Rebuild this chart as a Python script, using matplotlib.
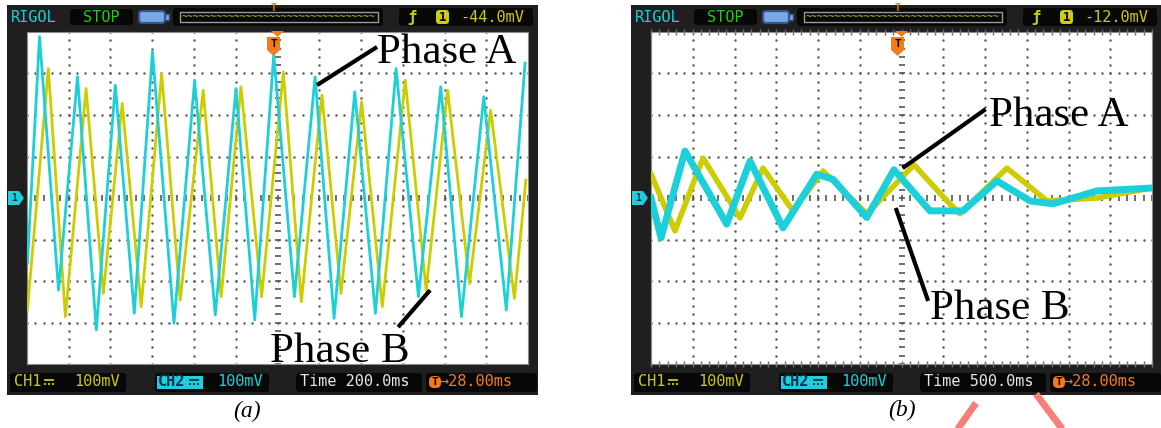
import matplotlib
matplotlib.use('Agg')
import matplotlib.pyplot as plt
from matplotlib.patches import Rectangle, FancyBboxPatch, Polygon
import numpy as np

# ---- values (time in ms from trigger, mV) ----
captions = ['(a)', '(b)']
time_per_div = [200, 500]          # ms/div
volt_per_div = 100                 # mV/div (CH1 and CH2)
trig_levels = ['-44.0mV', '-12.0mV']
time_labels = ['Time 200.0ms', 'Time 500.0ms']
trig_delay = '28.00ms'
ch_scale = '100mV'

# (a)  Phase A = CH2 (cyan), Phase B = CH1 (yellow)
a_phaseA_t = [-1198, -1140, -1049, -958, -868, -777, -686, -599, -496, -397, -298, -199, -109,
              -18, 81, 180, 271, 370, 469, 568, 675, 782, 881, 988, 1096, 1186]
a_phaseA_v = [-157, 389, -222, 292, -318, 272, -278, 353, -302, 284, -282, 264, -294,
              345, -238, 292, -290, 256, -278, 312, -238, 268, -286, 244, -270, 325]
a_phaseB_t = [-1198, -1098, -1016, -917, -834, -744, -653, -555, -466, -356, -270, -175, -76,
              28, 114, 213, 304, 403, 502, 612, 712, 815, 920, 1021, 1135, 1190]
a_phaseB_v = [-270, 312, -286, 264, -230, 228, -262, 300, -246, 260, -238, 268, -238,
              304, -250, 248, -230, 232, -262, 284, -222, 260, -206, 212, -242, 43]

# (b)
b_phaseA_t = [-3000, -2880, -2593, -2093, -1814, -1419, -1016, -820, -417, -90, 341, 737,
              1144, 1540, 1815, 2341, 2990]
b_phaseA_v = [0, -96, 113, -63, 89, -72, 57, 45, -47, 68, -31, -31, 41, -7, -14, 17, 24]
b_phaseB_t = [-3000, -2713, -2377, -1934, -1659, -1300, -940, -414, 150, 545, 700, 1263,
              1742, 2341, 2990]
b_phaseB_v = [58, -79, 96, -48, 72, -31, 65, -38, 80, -7, -38, 72, -7, 0, 24]

CYAN = '#1ccfd8'
YELLOW = '#cccc00'
ORANGE = '#f27d1a'
GREEN = '#18d018'
FRAME = '#1f1f1f'
BOX = '#070707'
MONO = ['DejaVu Sans Mono', 'DejaVu Sans']
SERIF = 'Liberation Serif'
W, H = 1161, 428

fig = plt.figure(figsize=(W / 100, H / 100), dpi=100)
fig.patch.set_facecolor('white')

bg = fig.add_axes([0, 0, 1, 1])
bg.set_xlim(0, W)
bg.set_ylim(H, 0)
bg.axis('off')


def box(ax, x, y, w, h, fc=BOX, ec='none', lw=0, r=3):
    ax.add_patch(FancyBboxPatch((x, y), w, h, boxstyle=f'round,pad=0,rounding_size={r}',
                                fc=fc, ec=ec, lw=lw))


def mtext(ax, x, y, s, color, size=11, ha='left', **kw):
    ax.text(x, y, s, color=color, fontsize=size, family=MONO, ha=ha, va='center', **kw)


def dc_symbol(ax, x, y, color):
    # the "direct current" sign: a full bar over a dashed bar (no installed font has it)
    ax.plot([x, x + 10], [y - 2.5, y - 2.5], color=color, lw=1.3, solid_capstyle='butt')
    for d in (0, 4, 8):
        ax.plot([x + d, x + d + 2], [y + 1.5, y + 1.5], color=color, lw=1.3,
                solid_capstyle='butt')


def chrome(ax, off, level, tlabel):
    ax.add_patch(Rectangle((7 + off, 5), 531, 390, fc=FRAME, ec='none'))
    # top bar
    mtext(ax, 11 + off, 17, 'RIGOL', CYAN)
    box(ax, 70 + off, 9, 63, 16)
    mtext(ax, 101.5 + off, 17, 'STOP', GREEN, ha='center')
    box(ax, 139 + off, 11, 26, 12, fc='#79a7e2', ec='#31568e', lw=1.5)
    ax.add_patch(Rectangle((165 + off, 14), 4, 6, fc='#79a7e2', ec='#31568e', lw=1))
    box(ax, 173 + off, 8, 210, 18)
    ax.add_patch(Rectangle((180 + off, 12), 198, 10, fc='none', ec='#9a9a9a', lw=1))
    mtext(ax, 279 + off, 17, '~' * 33, YELLOW, size=7, ha='center')
    mtext(ax, 274 + off, 8, 'T', ORANGE, size=7, ha='center', weight='bold')
    box(ax, 399 + off, 8, 134, 18)
    mtext(ax, 412 + off, 17, 'ƒ', YELLOW, size=11, ha='center', weight='bold')
    box(ax, 436 + off, 10, 13, 14, fc=YELLOW, r=3)
    mtext(ax, 442.5 + off, 17, '1', 'black', size=9, ha='center', weight='bold')
    mtext(ax, 460 + off, 17, level, YELLOW)
    # bottom bar
    box(ax, 10 + off, 373, 116, 19)
    mtext(ax, 14 + off, 382, 'CH1', YELLOW)
    dc_symbol(ax, 44 + off, 382, YELLOW)
    mtext(ax, 74 + off, 382, ch_scale, YELLOW)
    box(ax, 155 + off, 373, 114, 19)
    ax.add_patch(Rectangle((157 + off, 376), 46, 13, fc=CYAN, ec='none'))
    mtext(ax, 158 + off, 382, 'CH2', '#10304a', weight='bold')
    dc_symbol(ax, 189 + off, 382, '#10304a')
    mtext(ax, 217 + off, 382, ch_scale, CYAN)
    box(ax, 296 + off, 373, 126, 19)
    mtext(ax, 300 + off, 382, tlabel, '#e6e6e6')
    box(ax, 426 + off, 373, 111, 19)
    box(ax, 429 + off, 376, 12, 12, fc=ORANGE, r=5)
    mtext(ax, 435 + off, 382, 'T', 'black', size=8, ha='center', weight='bold')
    mtext(ax, 440 + off, 382, '→' + trig_delay, ORANGE)
    # channel marker on the left edge
    ax.add_patch(Polygon([(8 + off, 191), (19 + off, 191), (24 + off, 198), (19 + off, 205),
                          (8 + off, 205)], closed=True, fc=CYAN, ec='none'))
    mtext(ax, 14 + off, 198, '1', '#10304a', size=7, ha='center', weight='bold')


offsets = [0, 624]
for off, lev, tl in zip(offsets, trig_levels, time_labels):
    chrome(bg, off, lev, tl)

bg.text(247, 411, captions[0], family=SERIF, style='italic', fontsize=17, ha='center', va='center')
bg.text(902, 410, captions[1], family=SERIF, style='italic', fontsize=17, ha='center', va='center')

# pink watermark strokes below panel (b)
bg.plot([976, 957], [403, 430], color='#f38079', lw=5, solid_capstyle='butt')
bg.plot([1036, 1063], [394, 430], color='#f38079', lw=5, solid_capstyle='butt')


def screen(left, tdiv, panel_b=False):
    ax = fig.add_axes([left / W, 1 - (32 + 332) / H, 501 / W, 332 / H])
    ax.set_xlim(-6 * tdiv, 6 * tdiv)
    ax.set_ylim(-4 * volt_per_div, 4 * volt_per_div)
    ax.set_xticks([])
    ax.set_yticks([])
    for s in ax.spines.values():
        s.set_color('#8c8c8c')
        s.set_linewidth(0.8)
    gx = np.arange(-30, 31) * 0.2 * tdiv
    gy = np.arange(-20, 21) * 0.2 * volt_per_div
    dot = dict(ls='none', marker='o', ms=1.8, color='#5e5e5e', mec='none', zorder=1)
    for k in range(-5, 6):
        if k:
            ax.plot(np.full_like(gy, k * tdiv), gy, **dot)
    for j in range(-3, 4):
        if j:
            ax.plot(gx, np.full_like(gx, j * volt_per_div, dtype=float), **dot)
    ax.plot(np.zeros_like(gy), gy, ls='none', marker='_', ms=4, mew=1.2, color='#555555', zorder=1)
    ax.plot(gx, np.zeros_like(gx, dtype=float), ls='none', marker='|', ms=4, mew=1.2,
            color='#555555', zorder=1)
    if panel_b:
        top = 4 * volt_per_div
        ax.plot(gx, np.full_like(gx, top, dtype=float), ls='none', marker='|', ms=5, mew=1,
                color='#6a6a6a', clip_on=False)
        ax.plot(gx, np.full_like(gx, -top, dtype=float), ls='none', marker='|', ms=5, mew=1,
                color='#6a6a6a', clip_on=False)
    return ax


ax_a = screen(27, time_per_div[0])
ax_a.plot(a_phaseB_t, a_phaseB_v, color=YELLOW, lw=2, zorder=3)
ax_a.plot(a_phaseA_t, a_phaseA_v, color=CYAN, lw=2, zorder=4)

ax_b = screen(651, time_per_div[1], panel_b=True)
ax_b.plot(b_phaseB_t, b_phaseB_v, color=YELLOW, lw=4, zorder=3, solid_joinstyle='round')
ax_b.plot(b_phaseA_t, b_phaseA_v, color=CYAN, lw=5, zorder=4, solid_joinstyle='round')

lab = dict(family=SERIF, fontsize=31, va='baseline', ha='left', zorder=6)
lead = dict(color='black', lw=3, solid_capstyle='butt', zorder=6)

# (a) labels
ax_a.text(477, 325, 'Phase A', **lab)
ax_a.plot([477, 189], [364, 272], **lead)
ax_a.text(-36, -395, 'Phase B', **lab)
ax_a.plot([731, 578], [-222, -311], **lead)

# (b) labels
ax_b.text(1052, 173, 'Phase A', **lab)
ax_b.plot([1007, 13], [214, 72], **lead)
ax_b.text(343, -291, 'Phase B', **lab)
ax_b.plot([-69, 319], [-24, -248], **lead)

# overlay: trigger position markers at top of the screens
ov = fig.add_axes([0, 0, 1, 1], facecolor='none')
ov.set_xlim(0, W)
ov.set_ylim(H, 0)
ov.axis('off')
for off in offsets:
    ov.add_patch(Polygon([(271 + off, 31), (284 + off, 31), (277.5 + off, 37)], closed=True,
                         fc=ORANGE, ec='none'))
    ov.add_patch(Polygon([(267 + off, 37), (280 + off, 37), (280 + off, 50), (273.5 + off, 56),
                          (267 + off, 50)], closed=True, fc=ORANGE, ec='none'))
    ov.text(273.5 + off, 44, 'T', color='black', fontsize=8, weight='bold', family=MONO,
            ha='center', va='center')

fig.savefig('out.png', dpi=100)
